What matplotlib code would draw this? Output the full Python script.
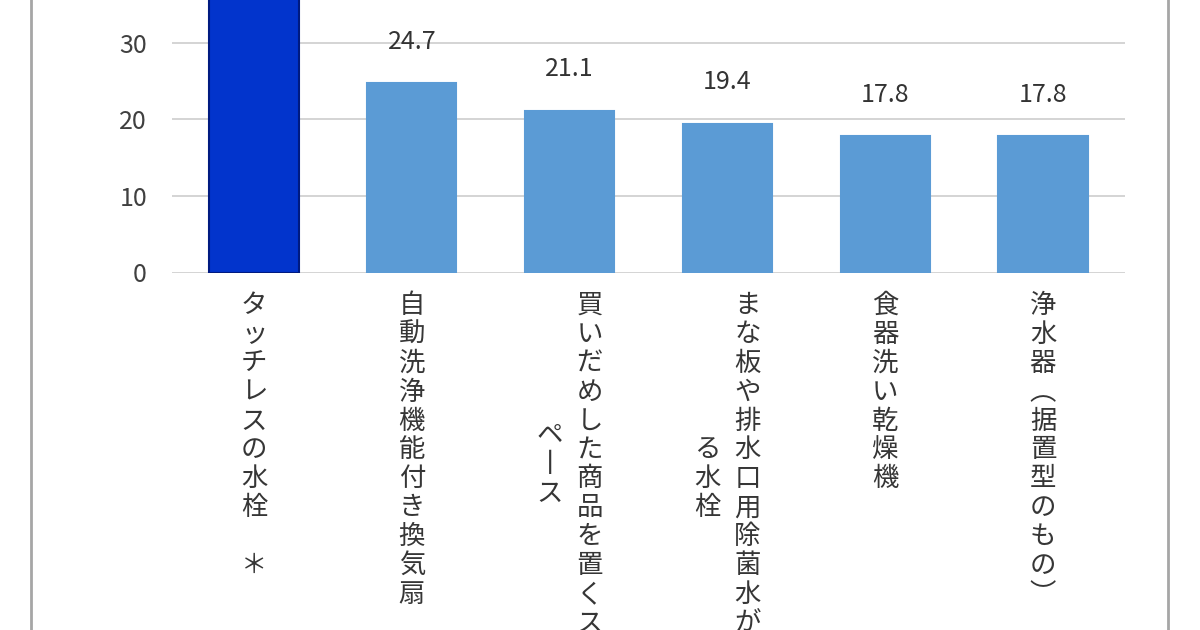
import matplotlib
matplotlib.use("Agg")
import matplotlib.pyplot as plt
from matplotlib.patches import Rectangle

plt.rcParams['font.family'] = ['Noto Sans CJK JP', 'DejaVu Sans']

# data (first bar runs off the top of the crop, value is a guess)
categories = [
    ["タッチレスの水栓　＊"],
    ["自動洗浄機能付き換気扇"],
    ["買いだめした商品を置くス", "ペース"],
    ["まな板や排水口用除菌水が出", "る水栓"],
    ["食器洗い乾燥機"],
    ["浄水器（据置型のもの）"],
]
values = [43.3, 24.7, 21.1, 19.4, 17.8, 17.8]
yticks = [0, 10, 20, 30]
bar_colors = ["#0234CC", "#5B9BD5", "#5B9BD5", "#5B9BD5", "#5B9BD5", "#5B9BD5"]
edge_colors = ["#001A80", "#5B9BD5", "#5B9BD5", "#5B9BD5", "#5B9BD5", "#5B9BD5"]

# stacked (tategaki) rendering: one char per line, vertical forms
VERT = {"ー": "丨", "（": "︵", "）": "︶"}


def vertical(s):
    return "\n".join(VERT.get(c, c) for c in s)


fig = plt.figure(figsize=(12, 6.3), dpi=100)
ax = fig.add_axes([172 / 1200, 1 - 272.5 / 630, (1125 - 172) / 1200, 272.5 / 630])

x = list(range(len(values)))
ax.bar(x, values, width=0.565, color=bar_colors, edgecolor=edge_colors, linewidth=1.5, zorder=2)

ax.set_xlim(-0.52, len(values) - 0.48)
ax.set_ylim(0, 35.6)
ax.set_yticks(yticks)
ax.set_xticks([])
ax.tick_params(axis='y', length=0, pad=18, labelsize=18, labelcolor="#404040")
ax.grid(axis='y', color="#D4D4D4", linewidth=1.4, zorder=0)
ax.set_axisbelow(True)
for sp in ax.spines.values():
    sp.set_visible(False)

# data labels
for i, v in enumerate(values):
    ax.annotate(f"{v:.1f}", xy=(i, v), xytext=(0, 30), textcoords='offset points',
                ha='center', va='center', fontsize=18, color="#333333")

# category labels, columns read right to left
col_gap = 40 * 72 / 100
for i, cols in enumerate(categories):
    dx = 0 if len(cols) == 1 else col_gap / 2
    first = ax.annotate(vertical(cols[0]), xy=(i, 0), xycoords=('data', 'axes fraction'),
                        xytext=(dx, -14), textcoords='offset points',
                        ha='center', va='top', fontsize=19, color="#363636",
                        annotation_clip=False)
    first.set_linespacing(1.09)
    for k, col in enumerate(cols[1:], start=1):
        t = ax.annotate(vertical(col), xy=(0.5, 0.5), xycoords=first,
                        xytext=(-col_gap * k, 0), textcoords='offset points',
                        ha='center', va='center', fontsize=19, color="#363636")
        t.set_linespacing(1.09)

# frame of the original chart box, cut off at top and bottom
fig.add_artist(Rectangle((31 / 1200, -0.1), (1168 - 31) / 1200, 1.2,
                         transform=fig.transFigure, fill=False,
                         edgecolor="#A6A6A6", linewidth=2))

fig.savefig("out.png", dpi=100)
